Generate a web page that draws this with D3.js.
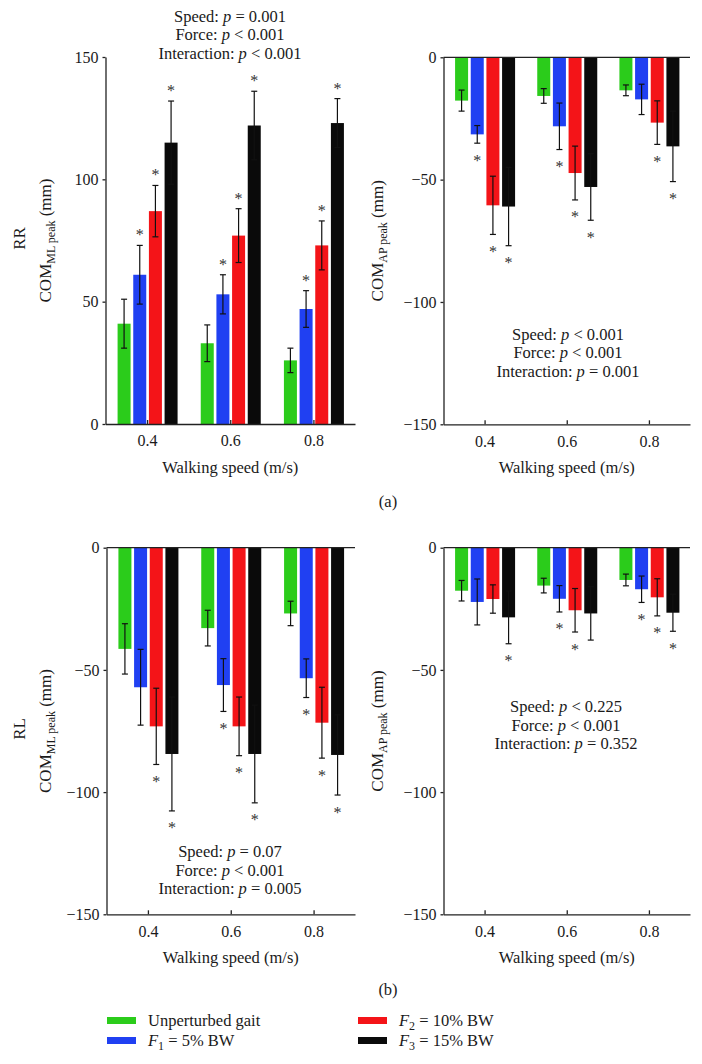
<!DOCTYPE html>
<html>
<head>
<meta charset="utf-8">
<script src="https://cdn.jsdelivr.net/npm/d3@7"></script>
<style>
  html, body { margin: 0; padding: 0; background: #fff; }
  svg { display: block; }
  svg text { font-family: "Liberation Serif", "Times New Roman", "DejaVu Serif", serif !important; fill: #1a1a1a; }
</style>
</head>
<body>
<script>
// ---------------- DATA ----------------
const speeds = [0.4, 0.6, 0.8];
const seriesNames = ["Unperturbed gait", "F1 = 5% BW", "F2 = 10% BW", "F3 = 15% BW"];
const xTicks = [0.4, 0.6, 0.8];
const yTicksPos = [0, 50, 100, 150];
const yTicksNeg = [0, -50, -100, -150];

// (a) RR — COM ML peak (mm): rows = series, cols = speeds
const rrMLMean = [[41, 33, 26], [61, 53, 47], [87, 77, 73], [115, 122, 123]];
const rrMLSd   = [[10, 7.5, 5], [12, 8, 7.5], [10.5, 11, 10], [17, 14, 10]];
const rrMLSig  = [[0, 0, 0], [1, 1, 1], [1, 1, 1], [1, 1, 1]];

// (a) RR — COM AP peak (mm)
const rrAPMean = [[-17.7, -15.8, -13.5], [-31.5, -28.2, -17.2], [-60.5, -47.3, -26.7], [-61, -53, -36.4]];
const rrAPSd   = [[4.3, 3, 2.2], [3.6, 9.5, 6.2], [11.9, 11, 8.9], [16, 13.6, 14.4]];
const rrAPSig  = [[0, 0, 0], [1, 1, 0], [1, 1, 1], [1, 1, 1]];

// (b) RL — COM ML peak (mm)
const rlMLMean = [[-41.4, -32.9, -26.9], [-57.1, -56.2, -53.4], [-73.1, -73.1, -71.6], [-84.4, -84.4, -84.8]];
const rlMLSd   = [[10.3, 7.3, 5], [15.5, 10.8, 7.9], [15.6, 12, 14.5], [23.3, 20, 16.4]];
const rlMLSig  = [[0, 0, 0], [0, 1, 1], [1, 1, 1], [1, 1, 1]];

// (b) RL — COM AP peak (mm)
const rlAPMean = [[-17.6, -15.5, -13.2], [-22.2, -20.9, -17], [-21, -25.6, -20.3], [-28.5, -26.9, -26.6]];
const rlAPSd   = [[4.2, 3, 2.4], [9.4, 5.4, 5.4], [5.8, 8.9, 7.6], [10.8, 10.9, 7.6]];
const rlAPSig  = [[0, 0, 0], [0, 1, 1], [0, 1, 1], [1, 0, 1]];

const annoRRML = ["Speed: p = 0.001", "Force: p < 0.001", "Interaction: p < 0.001"];
const annoRRAP = ["Speed: p < 0.001", "Force: p < 0.001", "Interaction: p = 0.001"];
const annoRLML = ["Speed: p = 0.07", "Force: p < 0.001", "Interaction: p = 0.005"];
const annoRLAP = ["Speed: p < 0.225", "Force: p < 0.001", "Interaction: p = 0.352"];

// ---------------- STYLE ----------------
const colors = ["#2bcc1b", "#2040f2", "#f41418", "#0a0a0a"];
const FONT = '"Liberation Serif", "Times New Roman", serif';
const W = 702, H = 1064;

const svg = d3.select("body").append("svg").attr("width", W).attr("height", H)
  .attr("font-family", FONT);

function richText(sel, str) {
  const parts = str.split(/(\bp\b)/);
  parts.forEach(p => {
    if (p === "p") sel.append("tspan").attr("font-style", "italic").text("p");
    else if (p.length) sel.append("tspan").text(p);
  });
}

function panel(cfg) {
  const g = svg.append("g");
  const x = d3.scaleLinear().domain([0.3, 0.9]).range(cfg.xRange);
  const y = d3.scaleLinear().domain(cfg.yDomain).range(cfg.yRange);
  const inner = d3.scaleBand().domain(d3.range(seriesNames.length)).range([-29.5, 30.5]).paddingInner(0.17);
  const bw = inner.bandwidth();

  seriesNames.forEach((s, si) => {
    speeds.forEach((sp, ci) => {
      const v = cfg.mean[si][ci];
      const sd = cfg.sd[si][ci];
      const cx = x(sp) + inner(si) + bw / 2;
      g.append("rect")
        .attr("x", x(sp) + inner(si))
        .attr("y", Math.min(y(v), y(0)))
        .attr("width", bw)
        .attr("height", Math.abs(y(v) - y(0)))
        .attr("fill", colors[si]);
      const y1 = y(v - sd), y2 = y(v + sd);
      const eg = g.append("g").attr("stroke", "#111").attr("stroke-width", 1.2);
      eg.append("line").attr("x1", cx).attr("x2", cx).attr("y1", y1).attr("y2", y2);
      eg.append("line").attr("x1", cx - 3).attr("x2", cx + 3).attr("y1", y1).attr("y2", y1);
      eg.append("line").attr("x1", cx - 3).attr("x2", cx + 3).attr("y1", y2).attr("y2", y2);
      if (cfg.sig[si][ci]) {
        const yEnd = v >= 0 ? y(v + sd) - 5 : y(v - sd) + 22.5;
        g.append("text").attr("x", cx).attr("y", yEnd)
          .attr("text-anchor", "middle").attr("font-size", 16).style("fill", "#333").text("*");
      }
    });
  });

  const ya = g.append("g").attr("transform", `translate(${cfg.xRange[0]},0)`)
    .call(d3.axisLeft(y).tickValues(cfg.yTicks).tickSize(3).tickPadding(4).tickSizeOuter(0))
    .attr("font-family", FONT);
  ya.selectAll("text").attr("font-size", 16);
  ya.selectAll("line, path").attr("stroke", "#222").attr("stroke-width", 1.3);

  const yBottom = cfg.yRange[0];
  const xa = g.append("g").attr("transform", `translate(0,${yBottom})`)
    .call(d3.axisBottom(x).tickValues(xTicks).tickFormat(d3.format(".1f")).tickSize(-4).tickPadding(11).tickSizeOuter(0))
    .attr("font-family", FONT);
  xa.selectAll("text").attr("font-size", 16);
  xa.selectAll("line, path").attr("stroke", "#222").attr("stroke-width", 1.3);

  if (cfg.yDomain[1] === 0) {
    g.append("line").attr("x1", cfg.xRange[0]).attr("x2", cfg.xRange[1])
      .attr("y1", y(0)).attr("y2", y(0)).attr("stroke", "#222").attr("stroke-width", 1.3);
  }

  g.append("text").attr("x", x(0.6)).attr("y", yBottom + 49)
    .attr("text-anchor", "middle").attr("font-size", 16.5).text("Walking speed (m/s)");

  const midY = (cfg.yRange[0] + cfg.yRange[1]) / 2;
  const yl = g.append("text").attr("transform", `translate(${cfg.yLabelX},${midY}) rotate(-90)`)
    .attr("text-anchor", "middle").attr("font-size", 17);
  yl.append("tspan").text("COM");
  yl.append("tspan").attr("font-size", 12).attr("dy", 4).text(cfg.sub);
  yl.append("tspan").attr("dy", -4).text(" (mm)");

  if (cfg.side) {
    g.append("text").attr("transform", `translate(${cfg.sideX},${midY - 2}) rotate(-90)`)
      .attr("text-anchor", "middle").attr("font-size", 17).text(cfg.side);
  }

  cfg.anno.forEach((line, i) => {
    const t = g.append("text").attr("x", cfg.annoX).attr("y", cfg.annoY + i * 18.6)
      .attr("text-anchor", "middle").attr("font-size", 16.5);
    richText(t, line);
  });
}

panel({ mean: rrMLMean, sd: rrMLSd, sig: rrMLSig, xRange: [105.5, 355], yDomain: [0, 150], yRange: [424, 57],
        yTicks: yTicksPos, sub: "ML peak", yLabelX: 51, side: "RR", sideX: 25,
        anno: annoRRML, annoX: 230, annoY: 21.5 });
panel({ mean: rrAPMean, sd: rrAPSd, sig: rrAPSig, xRange: [443.5, 690], yDomain: [-150, 0], yRange: [424.3, 57.3],
        yTicks: yTicksNeg, sub: "AP peak", yLabelX: 383, side: null,
        anno: annoRRAP, annoX: 568, annoY: 339.5 });
panel({ mean: rlMLMean, sd: rlMLSd, sig: rlMLSig, xRange: [106.5, 355], yDomain: [-150, 0], yRange: [914.3, 547.7],
        yTicks: yTicksNeg, sub: "ML peak", yLabelX: 51, side: "RL", sideX: 25,
        anno: annoRLML, annoX: 230, annoY: 857 });
panel({ mean: rlAPMean, sd: rlAPSd, sig: rlAPSig, xRange: [443.5, 690], yDomain: [-150, 0], yRange: [914.3, 547.7],
        yTicks: yTicksNeg, sub: "AP peak", yLabelX: 383, side: null,
        anno: annoRLAP, annoX: 566, annoY: 712 });

svg.append("text").attr("x", 388).attr("y", 507).attr("text-anchor", "middle").attr("font-size", 16.5).text("(a)");
svg.append("text").attr("x", 388).attr("y", 995).attr("text-anchor", "middle").attr("font-size", 16.5).text("(b)");

const legPos = [[107, 1020.5], [107, 1040.5], [358, 1020.5], [358, 1040.5]];
const legLabels = [
  [{ t: "Unperturbed gait" }],
  [{ t: "F", i: true }, { t: "1", sub: true }, { t: " = 5% BW" }],
  [{ t: "F", i: true }, { t: "2", sub: true }, { t: " = 10% BW" }],
  [{ t: "F", i: true }, { t: "3", sub: true }, { t: " = 15% BW" }]
];
seriesNames.forEach((s, i) => {
  const [lx, ly] = legPos[i];
  svg.append("rect").attr("x", lx).attr("y", ly - 3.5).attr("width", 29).attr("height", 7).attr("fill", colors[i]);
  const t = svg.append("text").attr("x", lx + 41).attr("y", ly + 5.5).attr("font-size", 16.5);
  let shifted = false;
  legLabels[i].forEach(p => {
    const ts = t.append("tspan").text(p.t);
    if (p.i) ts.attr("font-style", "italic");
    if (p.sub) { ts.attr("font-size", 12).attr("dy", 4); shifted = true; }
    else if (shifted) { ts.attr("dy", -4); shifted = false; }
  });
});
</script>
</body>
</html>
